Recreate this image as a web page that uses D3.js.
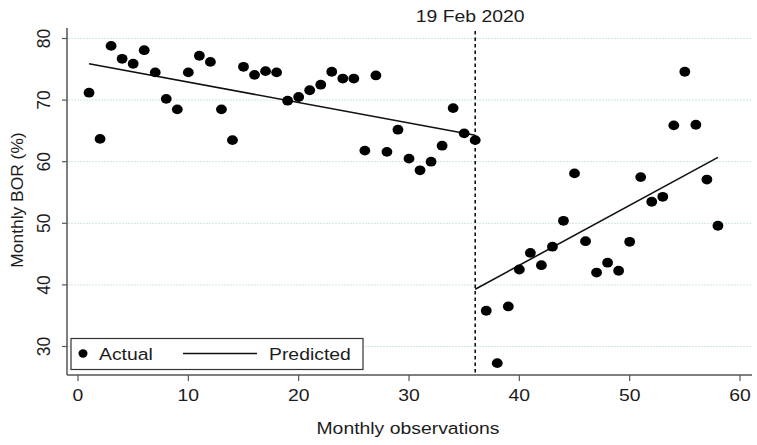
<!DOCTYPE html>
<html>
<head>
<meta charset="utf-8">
<script src="https://cdn.jsdelivr.net/npm/d3@7"></script>
<style>
  html, body { margin: 0; padding: 0; background: #fff; }
  svg { display: block; font-family: "Liberation Sans", Arial, sans-serif; }
</style>
</head>
<body>
<svg id="chart" width="757" height="445"></svg>
<script>
// ---- Data ----
const obsMonth = [1,2,3,4,5,6,7,8,9,10,11,12,13,14,15,16,17,18,19,20,21,22,23,24,25,26,27,28,29,
                  30,31,32,33,34,35,36,37,38,39,40,41,42,43,44,45,46,47,48,49,50,51,52,53,54,55,56,57,58];
const actualBOR = [71.2,63.7,78.8,76.7,75.9,78.1,74.5,70.2,68.5,74.5,77.2,76.2,68.5,63.5,75.4,74.1,74.7,74.5,
                   69.9,70.5,71.6,72.5,74.6,73.5,73.5,61.8,74.0,61.6,65.2,60.5,58.6,60.0,62.6,68.7,64.6,63.5,
                   35.8,27.3,36.5,42.5,45.2,43.2,46.2,50.4,58.1,47.1,42.0,43.6,42.3,47.0,57.5,53.5,54.3,65.9,
                   74.6,66.0,57.1,49.6];
const predPreX = [1, 36];
const predPreY = [75.9, 64.3];
const predPostX = [36, 58];
const predPostY = [39.3, 60.7];
const interventionX = 36;
const interventionLabel = "19 Feb 2020";
const xTicks = [0,10,20,30,40,50,60];
const yTicks = [30,40,50,60,70,80];
const xTitle = "Monthly observations";
const yTitle = "Monthly BOR (%)";
const legendLabels = ["Actual", "Predicted"];

// ---- Layout ----
const svg = d3.select("#chart");
const x = d3.scaleLinear().domain([0, 60]).range([78, 740]);
const y = d3.scaleLinear().domain([30, 80]).range([346.5, 38.5]);
const plotLeft = 67, plotRight = 752, plotTop = 28, plotBottom = 375;
const SX = 1.14, FS = 17;
const textColor = "#1c1c1c", axisColor = "#555";

function hText(g, px, py, str, anchor) {
  return g.append("text")
    .attr("transform", `translate(${px},${py}) scale(${SX},1)`)
    .attr("text-anchor", anchor || "middle")
    .attr("font-size", FS).attr("fill", textColor).text(str);
}
function vText(g, px, py, str, fs) {
  return g.append("text")
    .attr("transform", `translate(${px},${py}) rotate(-90)`)
    .attr("text-anchor", "middle")
    .attr("font-size", fs).attr("fill", textColor).text(str);
}

// gridlines
svg.append("g").selectAll("line").data(yTicks).join("line")
  .attr("x1", plotLeft + 1).attr("x2", plotRight)
  .attr("y1", d => y(d)).attr("y2", d => y(d))
  .attr("stroke", "#cfe4e8").attr("stroke-width", 1).attr("stroke-dasharray", "2,1");

// axes lines
svg.append("line").attr("x1", plotLeft).attr("x2", plotLeft).attr("y1", plotTop).attr("y2", plotBottom)
  .attr("stroke", axisColor).attr("stroke-width", 1.5);
svg.append("line").attr("x1", plotLeft).attr("x2", plotRight).attr("y1", plotBottom).attr("y2", plotBottom)
  .attr("stroke", axisColor).attr("stroke-width", 1.5);

// y ticks
const gy = svg.append("g");
gy.selectAll("line").data(yTicks).join("line")
  .attr("x1", plotLeft - 5).attr("x2", plotLeft).attr("y1", d => y(d)).attr("y2", d => y(d))
  .attr("stroke", axisColor).attr("stroke-width", 1.2);
yTicks.forEach(t => vText(gy, 50, y(t), String(t), 17.5));

// x ticks
const gx = svg.append("g");
gx.selectAll("line").data(xTicks).join("line")
  .attr("x1", d => x(d)).attr("x2", d => x(d)).attr("y1", plotBottom).attr("y2", plotBottom + 6)
  .attr("stroke", axisColor).attr("stroke-width", 1.2);
xTicks.forEach(t => hText(gx, x(t), 401, String(t)));

// axis titles
hText(svg, 408, 434, xTitle);
vText(svg, 23, 200, yTitle, 17.4);

// intervention line
svg.append("line").attr("x1", x(interventionX)).attr("x2", x(interventionX))
  .attr("y1", plotTop + 3).attr("y2", plotBottom)
  .attr("stroke", "#111").attr("stroke-width", 1.6).attr("stroke-dasharray", "3.5,3");
hText(svg, x(interventionX) - 5, 22, interventionLabel);

// predicted lines
const lineGen = d3.line().x(d => x(d[0])).y(d => y(d[1]));
[[predPreX, predPreY], [predPostX, predPostY]].forEach(([xs, ys]) => {
  svg.append("path").datum(xs.map((v, i) => [v, ys[i]]))
    .attr("d", lineGen).attr("fill", "none").attr("stroke", "#111").attr("stroke-width", 1.6);
});

// actual points
svg.append("g").selectAll("ellipse").data(obsMonth.map((m, i) => [m, actualBOR[i]])).join("ellipse")
  .attr("cx", d => x(d[0])).attr("cy", d => y(d[1]))
  .attr("rx", 5.4).attr("ry", 4.9).attr("fill", "#000");

// legend
const lg = svg.append("g");
lg.append("rect").attr("x", 71).attr("y", 338.5).attr("width", 292).attr("height", 31)
  .attr("fill", "#fff").attr("stroke", "#333").attr("stroke-width", 1.2);
lg.append("ellipse").attr("cx", 83).attr("cy", 353.5).attr("rx", 4.5).attr("ry", 4.2).attr("fill", "#000");
hText(lg, 99, 359.5, legendLabels[0], "start");
lg.append("line").attr("x1", 183).attr("x2", 257).attr("y1", 353.5).attr("y2", 353.5)
  .attr("stroke", "#111").attr("stroke-width", 1.6);
hText(lg, 269, 359.5, legendLabels[1], "start");
</script>
</body>
</html>
